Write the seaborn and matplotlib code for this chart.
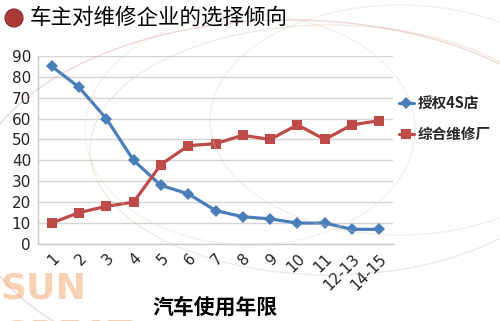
import numpy as np
import pandas as pd
import matplotlib.pyplot as plt
import seaborn as sns
from matplotlib.patches import Ellipse
from matplotlib.lines import Line2D

sns.set_theme(style="white")
plt.rcParams['font.family'] = ['Noto Sans CJK SC', 'DejaVu Sans']

# 数据
years = ['1', '2', '3', '4', '5', '6', '7', '8', '9', '10', '11', '12-13', '14-15']
auth_4s = [85, 75, 60, 40, 28, 24, 16, 13, 12, 10, 10, 7, 7]
general_repair = [10, 15, 18, 20, 38, 47, 48, 52, 50, 57, 50, 57, 59]
series_names = ['授权4S店', '综合维修厂']
colors = ['#4A7EBB', '#BE4B48']
markers = ['D', 's']
y_ticks = list(range(0, 91, 10))

df = pd.DataFrame({
    '年限': years * 2,
    '比例': auth_4s + general_repair,
    '类型': [series_names[0]] * len(years) + [series_names[1]] * len(years),
})

fig = plt.figure(figsize=(5.0, 3.21), dpi=100)
fig.patch.set_facecolor('white')

# 背景装饰弧线（淡色）
for (cx, cy, w, h, c, a) in [(330, 150, 480, 250, '#D8B9A0', 0.3),
                             (400, 120, 380, 230, '#E0CDBB', 0.3),
                             (290, 200, 640, 360, '#C98080', 0.3),
                             (250, 130, 330, 230, '#E7D7C4', 0.35)]:
    fig.patches.append(Ellipse((cx / 500, 1 - cy / 321), w / 500, h / 321,
                               transform=fig.transFigure, fill=False,
                               edgecolor=c, alpha=a, lw=1, zorder=0))
fig.text(0.0, 0.07, 'SUN', fontsize=26, fontweight='bold', color='#F2A46C',
         alpha=0.5, family='DejaVu Sans', zorder=0)
fig.text(0.0, -0.075, 'GREAT', fontsize=26, fontweight='bold', color='#F2A46C',
         alpha=0.5, family='DejaVu Sans', zorder=0)

ax = fig.add_axes([0.076, 0.24, 0.71, 0.586])
ax.set_facecolor('none')

sns.lineplot(data=df, x='年限', y='比例', hue='类型', style='类型',
             palette=dict(zip(series_names, colors)),
             markers=dict(zip(series_names, markers)), dashes=False,
             markersize=7, markeredgewidth=0, linewidth=2.3, sort=False,
             legend=False, ax=ax)
for ln, m in zip(ax.get_lines(), [6.5, 7.5]):
    ln.set_markersize(m)

ax.set_xlim(-0.5, len(years) - 0.5)
ax.set_ylim(0, 90)
ax.set_yticks(y_ticks)
ax.set_xticks(range(len(years)))
ax.set_xticklabels(years, rotation=45, ha='right', rotation_mode='anchor',
                   family='DejaVu Sans')
ax.tick_params(axis='both', labelsize=11, colors='#222222', length=0, pad=5)
for lab in ax.get_yticklabels():
    lab.set_family('DejaVu Sans')
ax.yaxis.grid(True, color='#D4D4D4', lw=1)
ax.set_axisbelow(True)
for s in ['top', 'right']:
    ax.spines[s].set_visible(False)
for s in ['left', 'bottom']:
    ax.spines[s].set_color('#C8C8C8')
    ax.spines[s].set_linewidth(1)
ax.set_xlabel('')
ax.set_ylabel('')

# 图例
handles = [Line2D([0], [0], color=c, marker=m, lw=2.3, markersize=6.5, markeredgewidth=0)
           for c, m in zip(colors, markers)]
fig.legend(handles, series_names, loc='upper left', bbox_to_anchor=(0.798, 0.705),
           frameon=False, handlelength=1.0, handletextpad=0.25, labelspacing=1.05,
           borderpad=0, borderaxespad=0, prop={'size': 10.5, 'weight': 'bold'})

# 标题和坐标轴标题
fig.patches.append(Ellipse((14 / 500, 1 - 18 / 321), 18 / 500, 18 / 321,
                           transform=fig.transFigure, facecolor='#A93A38',
                           edgecolor='#8A2A28', lw=0.8))
fig.text(0.06, 0.945, '车主对维修企业的选择倾向', fontsize=15.5, color='black',
         va='center', ha='left')
fig.text(0.43, 0.043, '汽车使用年限', fontsize=15, fontweight='bold', color='black',
         va='center', ha='center')

fig.savefig('out.png', dpi=100)
